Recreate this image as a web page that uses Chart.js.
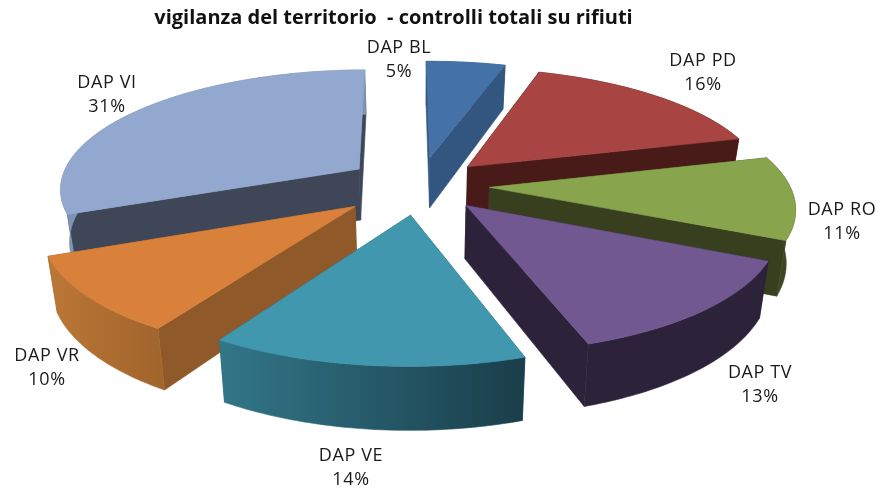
<!DOCTYPE html>
<html><head><meta charset="utf-8">
<style>html,body{margin:0;padding:0;background:#fff}canvas{display:block}</style>
<script src="https://cdn.jsdelivr.net/npm/chart.js@4"></script>
</head><body><canvas id="c" width="881" height="489"></canvas>
<script>
const categories = ["DAP BL","DAP PD","DAP RO","DAP TV","DAP VE","DAP VR","DAP VI"];
const percentages = [5,16,11,13,14,10,31];
const topColors = ["#4472a6","#a84543","#88a44d","#715890","#4097ae","#d9813b","#92a8cf"];
const wallColors = ["#32567f","#481a18","#373f1e","#2c233b","#2a6474","#90592a","#3e4658"];
const rimFrom = ["#32567f","#481a18","#3f4a20","#2c233b","#327688","#bb7736","#7f93b6"];
const rimTo = ["#32567f","#481a18","#3a441e","#2c233b","#1a3e4a","#a2652c","#7f93b6"];
const explode = [72,68,70,68,74,82,74];
const labelAnchors = [[399,48],[703,61],[842,210],[760,373],[351,456],[47,356],[107,83]];

const view = {cx:419.5,cy:185,R:300,p:0.15,ky:0.395,depth:52,taper:0.975,steps:48};

const projectPlugin = {
  id:'project',
  beforeDatasetDraw(chart,args){
    const meta = chart.getDatasetMeta(args.index);
    const ctx = chart.ctx;
    const top = (a,r,off,mid)=>{
      const u = view.R*r*Math.cos(a)+off*Math.cos(mid);
      const v = view.R*r*Math.sin(a)+off*Math.sin(mid);
      const s = 1/(1-view.p*v/view.R);
      return {x:view.cx+u*s,y:view.cy+view.ky*v*s,s};
    };
    const low = q=>({x:view.cx+(q.x-view.cx)*view.taper,y:q.y+view.depth*q.s});
    const poly = (pts,fill)=>{
      ctx.beginPath();
      pts.forEach((q,i)=>i?ctx.lineTo(q.x,q.y):ctx.moveTo(q.x,q.y));
      ctx.closePath();
      ctx.fillStyle=fill;ctx.fill();
      ctx.strokeStyle=fill;ctx.lineWidth=0.6;ctx.stroke();
    };
    const slices = meta.data.map((el,i)=>{
      const mid=(el.startAngle+el.endAngle)/2;
      return {el,i,mid,off:el.options.offset};
    }).sort((a,b)=>Math.sin(a.mid)-Math.sin(b.mid));
    slices.forEach(({el,i,mid,off})=>{
      const rim=[];
      for(let k=0;k<=view.steps;k++){
        const a=el.startAngle+(el.endAngle-el.startAngle)*k/view.steps;
        rim.push(top(a,1,off,mid));
      }
      const apex=top(0,0,off,mid);
      const wall=wallColors[i];
      poly([apex,rim[0],low(rim[0]),low(apex)],wall);
      poly([apex,rim[view.steps],low(rim[view.steps]),low(apex)],wall);
      const xs=rim.map(q=>q.x);
      const g=ctx.createLinearGradient(Math.min(...xs),0,Math.max(...xs),0);
      g.addColorStop(0,rimFrom[i]);g.addColorStop(1,rimTo[i]);
      poly(rim.concat(rim.map(low).reverse()),g);
      poly([apex].concat(rim),topColors[i]);
    });
    return false;
  },
  afterDraw(chart){
    const ctx=chart.ctx;
    ctx.save();
    ctx.fillStyle="#1a1a1a";
    ctx.font='18px "Open Sans"';
    ctx.letterSpacing='0.6px';
    ctx.textAlign='center';ctx.textBaseline='middle';
    categories.forEach((c,i)=>{
      const [x,y]=labelAnchors[i];
      ctx.fillText(c,x,y);
      ctx.fillText(percentages[i]+"%",x,y+24);
    });
    ctx.restore();
  }
};

new Chart(document.getElementById('c'),{
  type:'pie',
  data:{labels:categories,datasets:[{data:percentages,backgroundColor:topColors,offset:explode,borderWidth:0}]},
  options:{
    responsive:false,animation:false,rotation:-0.5,
    layout:{padding:{right:94}},
    plugins:{
      legend:{display:false},tooltip:{enabled:false},
      title:{display:true,text:"vigilanza del territorio  - controlli totali su rifiuti",color:"#111",
        font:{family:'"Open Sans"',size:20,weight:'bold'},padding:{top:6,bottom:4}}
    }
  },
  plugins:[projectPlugin]
});
</script></body></html>
